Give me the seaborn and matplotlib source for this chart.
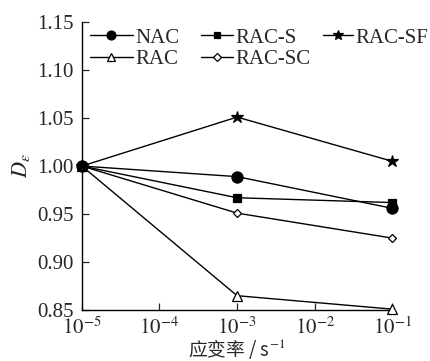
import matplotlib
matplotlib.use("Agg")
import matplotlib.pyplot as plt
import seaborn as sns
import pandas as pd
from matplotlib.lines import Line2D

strain_rates = [1e-5, 1e-3, 1e-1]
NAC = [1.000, 0.989, 0.956]
RAC = [1.000, 0.865, 0.851]
RAC_S = [1.000, 0.967, 0.962]
RAC_SC = [1.000, 0.951, 0.925]
RAC_SF = [1.000, 1.051, 1.005]
series_names = ["NAC", "RAC", "RAC-S", "RAC-SC", "RAC-SF"]
series_vals = [NAC, RAC, RAC_S, RAC_SC, RAC_SF]
y_ticks = [0.85, 0.90, 0.95, 1.00, 1.05, 1.10, 1.15]
x_ticks = [1e-5, 1e-4, 1e-3, 1e-2, 1e-1]
x_ticklabels = ["$10^{-5}$", "$10^{-4}$", "$10^{-3}$", "$10^{-2}$", "$10^{-1}$"]

rows = []
for n, vals in zip(series_names, series_vals):
    for x, v in zip(strain_rates, vals):
        rows.append({"rate": x, "De": v, "series": n})
df = pd.DataFrame(rows)

sns.set_style("ticks")
plt.rcParams["font.family"] = ["Liberation Serif", "Noto Sans CJK SC"]
plt.rcParams["mathtext.fontset"] = "stix"

markers = {"NAC": "o", "RAC": "^", "RAC-S": "s", "RAC-SC": "D", "RAC-SF": "*"}
msize = {"NAC": 8, "RAC": 7, "RAC-S": 6, "RAC-SC": 6, "RAC-SF": 9}
mfc = {"NAC": "black", "RAC": "white", "RAC-S": "black", "RAC-SC": "white", "RAC-SF": "black"}

W, H = 431, 361
fig = plt.figure(figsize=(W / 100, H / 100), dpi=100)
ax = fig.add_axes([0.19, 0.141, 0.72, 0.798])

for n in series_names:
    sub = df[df.series == n]
    m = markers[n]
    sns.lineplot(data=sub, x="rate", y="De", ax=ax, color="black", lw=1.0,
                 marker=m, markersize=msize[n] * (0.75 if m == "D" else 1),
                 markerfacecolor=mfc[n], markeredgecolor="black", markeredgewidth=0.9,
                 legend=False, clip_on=False, zorder=3)

ax.set_xscale("log")
ax.set_xlim(1e-5, 1e-1)
ax.set_ylim(0.85, 1.15)
ax.set_xticks(x_ticks)
ax.set_xticklabels(x_ticklabels)
ax.minorticks_off()
ax.set_yticks(y_ticks)
ax.set_yticklabels([f"{t:.2f}" for t in y_ticks])
ax.tick_params(direction="in", length=5, width=0.9, labelsize=15)
ax.tick_params(axis="x", pad=5)
ax.tick_params(axis="y", pad=6)
for s in ["top", "right"]:
    ax.spines[s].set_visible(False)
for s in ["left", "bottom"]:
    ax.spines[s].set_linewidth(1.0)
    ax.spines[s].set_color("black")

ax.set_ylabel(r"$D_\varepsilon$", fontsize=16, labelpad=4)
ax.set_xlabel("应变率 / s$^{-1}$", fontsize=13.5, labelpad=-1,
              family=["Noto Sans CJK SC", "Liberation Serif"])

def handle(n):
    return Line2D([], [], color="black", lw=1.0, marker=markers[n],
                  markersize=msize[n] * (0.75 if markers[n] == "D" else 1) * 0.8,
                  markerfacecolor=mfc[n], markeredgecolor="black", markeredgewidth=0.9)

fs = 15
em = fs * 100 / 72.0
cols = [(["NAC", "RAC"], 90, 43), (["RAC-S", "RAC-SC"], 201, 32), (["RAC-SF"], 323, 30)]
top_y = 1 - 28 / H
for names, x0, hl in cols:
    leg = fig.legend([handle(n) for n in names], names, loc="upper left",
                     bbox_to_anchor=(x0 / W, top_y), bbox_transform=fig.transFigure,
                     frameon=False, fontsize=fs, handlelength=hl / em,
                     handletextpad=2 / em, labelspacing=0.08, borderpad=0,
                     borderaxespad=0)

fig.savefig("out.png", dpi=100)
